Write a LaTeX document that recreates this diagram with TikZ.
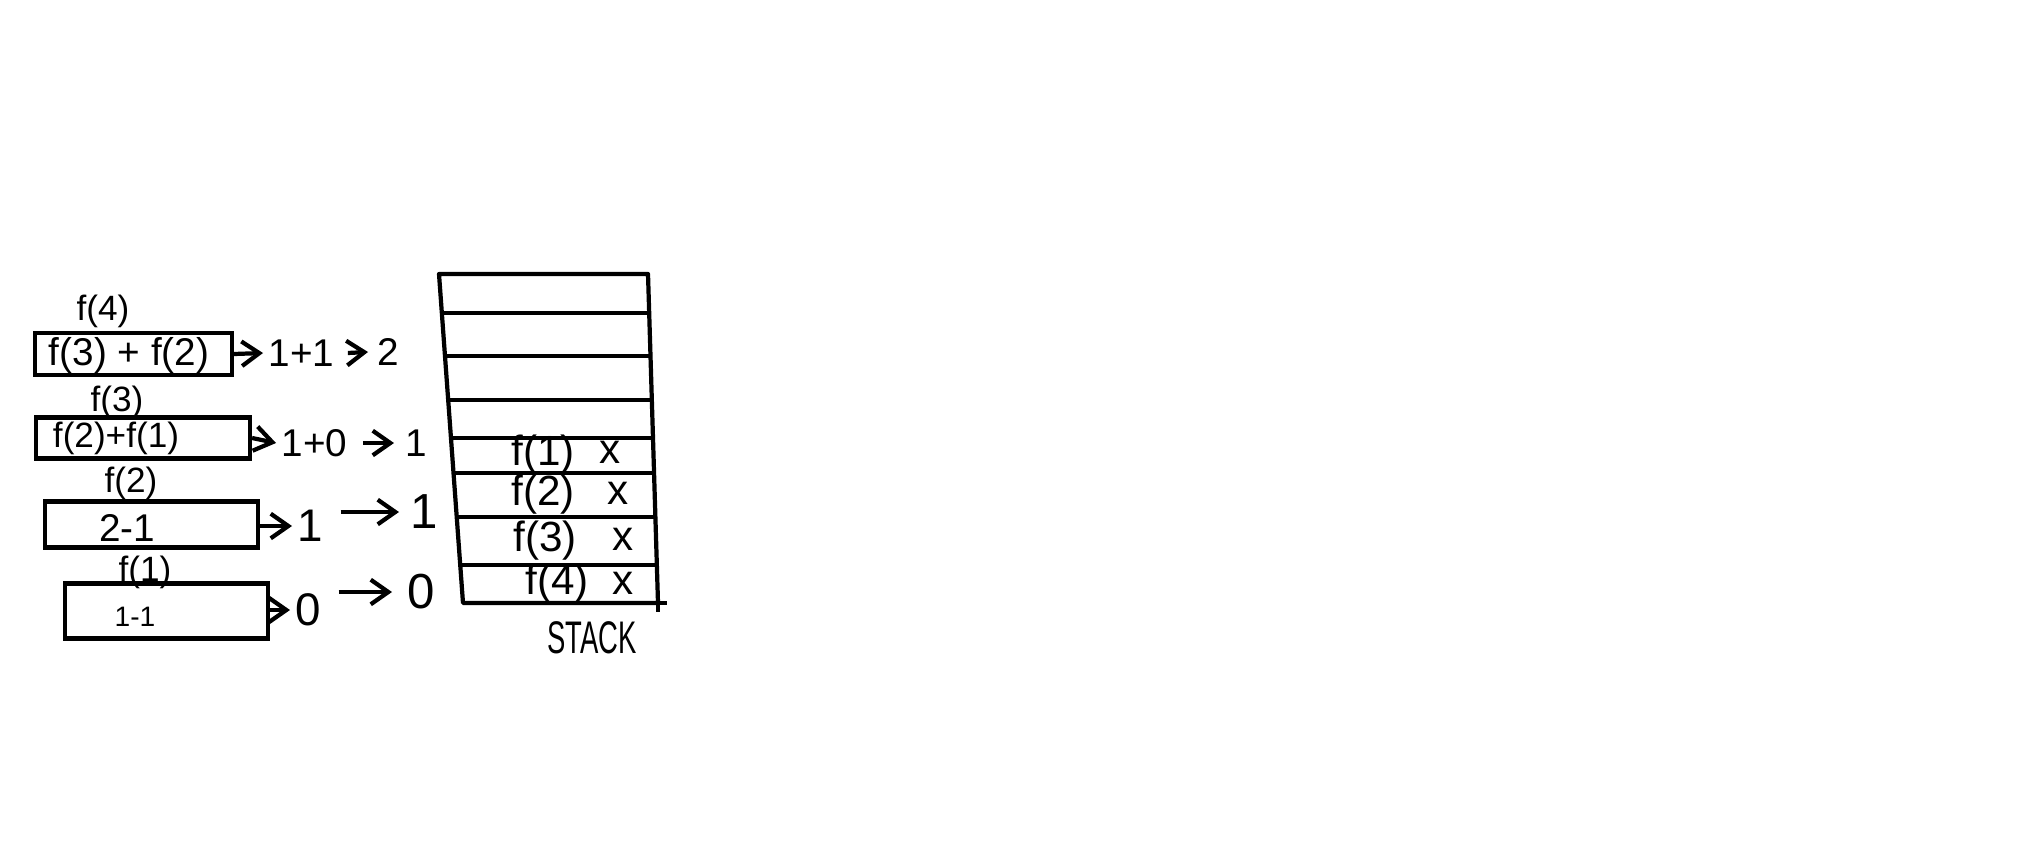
\documentclass[tikz,border=0pt]{standalone}
\usepackage{fontspec}
\setmainfont{Liberation Sans}
\usetikzlibrary{arrows.meta,calc}
\begin{document}
\begin{tikzpicture}[x=0.01cm,y=-0.01cm,
  line width=1.2pt,
  callbox/.style={draw,rectangle,inner sep=0pt},
  lbl/.style={inner sep=1pt,font=\fontsize{10}{12}\selectfont},
  boxtxt/.style={inner sep=1pt,font=\fontsize{11}{13}\selectfont},
  val/.style={inner sep=1pt,anchor=west,font=\fontsize{11}{13}\selectfont},
  arr/.style={-{Straight Barb[length=5pt,width=7pt]},line width=1.2pt},
  stk/.style={line width=1.2pt,line join=round},
  cell/.style={inner sep=1pt,font=\fontsize{12}{14}\selectfont}]
\useasboundingbox (0,0) rectangle (2040,867);

% call boxes
\node[callbox,minimum width=197*0.01cm,minimum height=42*0.01cm] (b1) at (133.5,354) {};
\node[callbox,minimum width=214*0.01cm,minimum height=41*0.01cm] (b2) at (143,438) {};
\node[callbox,minimum width=213*0.01cm,minimum height=46*0.01cm] (b3) at (151.5,524.5) {};
\node[callbox,minimum width=203*0.01cm,minimum height=55*0.01cm] (b4) at (166.5,611) {};

% labels above boxes
\node[lbl] (l1) at (103,311) {f(4)};
\node[lbl] (l2) at (117,402) {f(3)};
\node[lbl] (l3) at (131,483) {f(2)};
\node[lbl] (l4) at (145,572) {f(1)};

% texts inside boxes
\node[boxtxt,font=\fontsize{11}{13}\selectfont] (t1) at (129,355) {f(3) + f(2)};
\node[boxtxt,font=\fontsize{10}{12}\selectfont] (t2) at (116,438) {f(2)+f(1)};
\node[boxtxt,font=\fontsize{11}{13}\selectfont] (t3) at (127,528) {2-1};
\node[boxtxt,font=\fontsize{8}{10}\selectfont] (t4) at (135,617) {1-1};

% values
\node[val] (v1a) at (263,353) {1+1};
\node[val] (v1b) at (372,352) {2};
\node[val] (v2a) at (276,443) {1+0};
\node[val] (v2b) at (400,443) {1};
\node[val,font=\fontsize{13}{15}\selectfont] (v3a) at (292,526) {1};
\node[val,font=\fontsize{14}{16}\selectfont] (v3b) at (405,512) {1};
\node[val,font=\fontsize{13}{15}\selectfont] (v4a) at (290,610) {0};
\node[val,font=\fontsize{14}{16}\selectfont] (v4b) at (402,592) {0};

% arrows
\draw[arr] (b1.east) -- (v1a.west);
\draw[arr] ([xshift=0.08cm]v1a.east) -- ([xshift=-0.04cm]v1b.west);
\draw[arr] (b2.east) -- (v2a.west);
\draw[arr] ([xshift=0.1cm]v2a.east) -- ([xshift=-0.06cm]v2b.west);
\draw[arr] (b3.east |- v3a.west) -- (v3a.west);
\draw[arr] ([xshift=0.12cm]v3a.east |- v3b.west) -- ([xshift=-0.06cm]v3b.west);
\draw[arr] (b4.east |- v4a.west) -- (v4a.west);
\draw[arr] ([xshift=0.12cm]v4a.east |- v4b.west) -- ([xshift=-0.1cm]v4b.west);

% stack
\coordinate (TL) at (439,274);
\coordinate (TR) at (648,274);
\coordinate (BL) at (463,603);
\coordinate (BR) at (658,603);
\draw[stk] (TL) -- (TR) -- (BR) -- (BL) -- cycle;
\foreach \t in {0.1185,0.249,0.383,0.4985,0.605,0.7386,0.8845}
  \draw[stk] ($(TL)!\t!(BL)$) -- ($(TR)!\t!(BR)$);
\draw[stk] (BR) -- ++(9,0);
\draw[stk] (BR) -- ++(0,9);

\node[cell] (s1) at (543,455) {f(1)};
\node[cell] (x1) at (610,452) {x};
\node[cell] (s2) at (543,495) {f(2)};
\node[cell] (x2) at (618,493) {x};
\node[cell] (s3) at (545,541) {f(3)};
\node[cell] (x3) at (623,539) {x};
\node[cell] (s4) at (557,584) {f(4)};
\node[cell] (x4) at (623,583) {x};

\node[inner sep=1pt,font=\fontsize{13}{15}\selectfont,xscale=0.6] (st) at (592,638) {STACK};
\end{tikzpicture}
\end{document}
